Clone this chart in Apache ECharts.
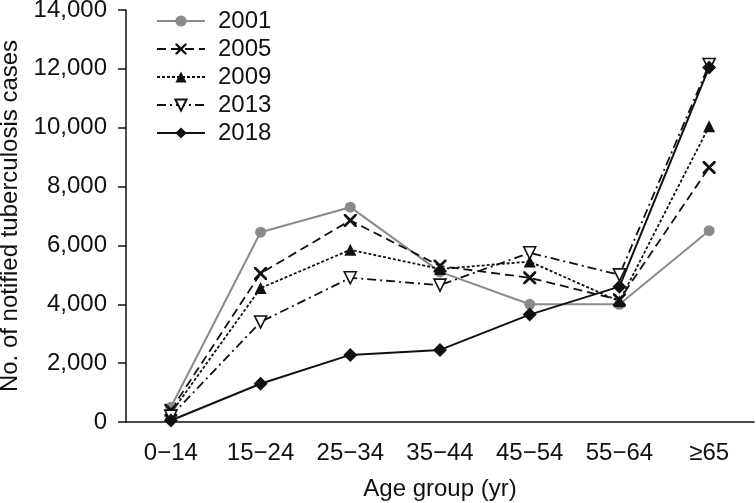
<!DOCTYPE html>
<html>
<head>
<meta charset="utf-8">
<script src="https://cdn.jsdelivr.net/npm/echarts@6/dist/echarts.min.js"></script>
<style>html,body{margin:0;padding:0;background:#fff;}#c{width:756px;height:503px;}</style>
</head>
<body>
<div id="c"></div>
<script>
const categories = ['0\u221214','15\u221224','25\u221234','35\u221244','45\u221254','55\u221264','\u226565'];
const y2001 = [500, 6450, 7300, 5100, 4000, 4000, 6500];
const y2005 = [400, 5050, 6850, 5300, 4900, 4150, 8650];
const y2009 = [300, 4550, 5850, 5200, 5450, 4100, 10050];
const y2013 = [200, 3400, 4900, 4650, 5750, 5000, 12150];
const y2018 = [50, 1300, 2280, 2450, 3650, 4600, 12050];
const yMin = 0, yMax = 14000, yStep = 2000;

const FONT = "Arial, 'Liberation Sans', sans-serif";
const FS = 24;
const crossPath = 'path://M0,0 L3,0 L10,7 L17,0 L20,0 L20,3 L13,10 L20,17 L20,20 L17,20 L10,13 L3,20 L0,20 L0,17 L7,10 L0,3 Z';

const chart = echarts.init(document.getElementById('c'), null, {renderer: 'canvas'});
chart.setOption({
  animation: false,
  backgroundColor: '#fff',
  textStyle: {fontFamily: FONT},
  grid: {left: 126, right: 2, top: 10, bottom: 81, containLabel: false, outerBoundsMode: 'none'},
  legend: {
    orient: 'vertical', left: 156, top: 8, padding: 0,
    itemWidth: 48, itemHeight: 14, itemGap: 2,
    textStyle: {fontFamily: FONT, fontSize: FS, color: '#111', lineHeight: 26, padding: [0,0,0,8]},
    data: ['2001','2005','2009','2013','2018']
  },
  xAxis: {
    type: 'category', data: categories, boundaryGap: true,
    axisLine: {lineStyle: {color: '#111', width: 1.5}},
    axisTick: {length: 8, lineStyle: {color: '#111', width: 1.5}},
    axisLabel: {color: '#111', fontSize: FS, fontFamily: FONT, margin: 19, interval: 0},
    name: 'Age group (yr)', nameLocation: 'middle', nameGap: 55,
    nameTextStyle: {color: '#111', fontSize: FS, fontFamily: FONT}
  },
  yAxis: {
    type: 'value', min: yMin, max: yMax, interval: yStep,
    axisLine: {show: true, lineStyle: {color: '#111', width: 1.5}},
    axisTick: {show: true, length: 8, lineStyle: {color: '#111', width: 1.5}},
    splitLine: {show: false},
    axisLabel: {color: '#111', fontSize: FS, fontFamily: FONT, margin: 19,
      formatter: v => v.toLocaleString('en-US')},
    name: 'No. of notified tuberculosis cases', nameLocation: 'middle', nameGap: 100,
    nameTextStyle: {color: '#111', fontSize: FS, fontFamily: FONT}
  },
  series: [
    {name: '2001', type: 'line', data: y2001, symbol: 'circle', symbolSize: 11,
      lineStyle: {color: '#8a8a8a', width: 2, type: 'solid'},
      itemStyle: {color: '#8a8a8a'}},
    {name: '2005', type: 'line', data: y2005, symbol: crossPath, symbolSize: 13,
      lineStyle: {color: '#111', width: 1.8, type: [9, 5]},
      itemStyle: {color: '#111'}},
    {name: '2009', type: 'line', data: y2009, symbol: 'triangle', symbolSize: 12,
      lineStyle: {color: '#111', width: 1.8, type: [3, 2]},
      itemStyle: {color: '#111'}},
    {name: '2013', type: 'line', data: y2013, symbol: 'triangle', symbolRotate: 180, symbolSize: 12,
      lineStyle: {color: '#111', width: 1.8, type: [9, 4, 2, 4]},
      itemStyle: {color: '#fff', borderColor: '#111', borderWidth: 1.6}},
    {name: '2018', type: 'line', data: y2018, symbol: 'diamond', symbolSize: 14,
      lineStyle: {color: '#111', width: 2, type: 'solid'},
      itemStyle: {color: '#111'}, z: 5}
  ]
});
</script>
</body>
</html>
